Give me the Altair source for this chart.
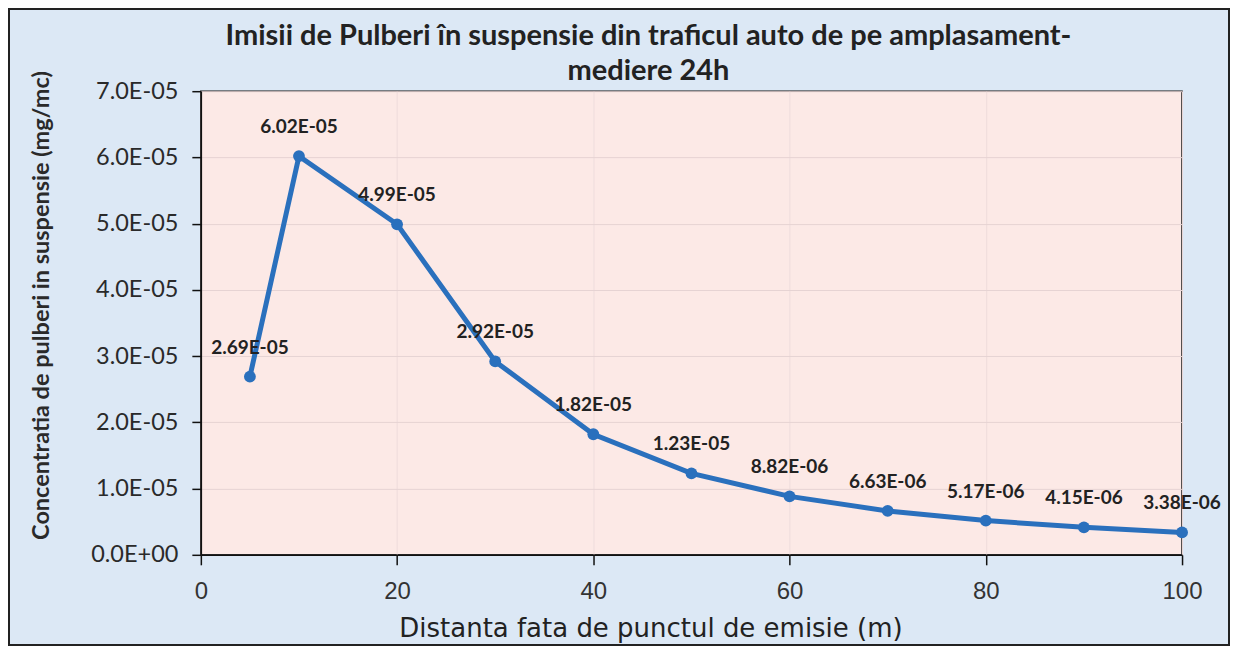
import altair as alt
import pandas as pd

# ---- data ----
distance = [5, 10, 20, 30, 40, 50, 60, 70, 80, 90, 100]
concentration = [2.69e-5, 6.02e-5, 4.99e-5, 2.92e-5, 1.82e-5, 1.23e-5,
                 8.82e-6, 6.63e-6, 5.17e-6, 4.15e-6, 3.38e-6]
x_ticks = [0, 20, 40, 60, 80, 100]
y_ticks = [0, 1e-5, 2e-5, 3e-5, 4e-5, 5e-5, 6e-5, 7e-5]

title_line1 = ["Imisii de Pulberi în suspensie din traficul auto de pe amplasament-"]
title_line2 = ["mediere 24h"]
x_title = "Distanta fata de punctul de emisie (m)"
y_title = "Concentratia de pulberi in suspensie (mg/mc)"

df = pd.DataFrame({
    "dist": distance,
    "conc": concentration,
    "label": [f"{v:.2E}" for v in concentration],
})

W, H = 982, 464
PAD_L, PAD_T, PAD_R, PAD_B = 193, 83, 48, 91

LINE_COLOR = "#2a70bd"
CALIBRI = "Lato"
ARIAL = "Liberation Sans"

x_enc = alt.X(
    "dist:Q",
    scale=alt.Scale(domain=[0, 100], nice=False),
    axis=alt.Axis(
        values=x_ticks, title=x_title, grid=True, gridColor="#eedcdc",
        gridWidth=1, domainColor="#111", domainWidth=1.5, tickColor="#111",
        tickWidth=1.5, tickSize=10, labelFont=ARIAL, labelFontSize=24,
        labelColor="#333", labelPadding=15, labelFlush=False,
        titleFont="DejaVu Sans", titleFontSize=26, titleFontWeight="normal",
        titleColor="#222", titleX=450, titleY=74, titleAlign="center",
        titleBaseline="middle",
    ),
)
y_enc = alt.Y(
    "conc:Q",
    scale=alt.Scale(domain=[0, 7e-5], nice=False),
    axis=alt.Axis(
        values=y_ticks, title=y_title, grid=True, gridColor="#e6d3d3",
        gridWidth=1, domainColor="#111", domainWidth=1.5, tickColor="#111",
        tickWidth=1.5, tickSize=9, labelFont=CALIBRI, labelFontSize=23.5,
        labelColor="#2a2a2a", labelPadding=14, labelFlush=False,
        labelExpr="datum.value == 0 ? '0.0E+00' : replace(format(datum.value, '.1e'), 'e-', 'E-0')",
        titleFont=CALIBRI, titleFontSize=23.5, titleFontWeight="bold",
        titleColor="#2a2a2a", titleX=-159, titleY=214, titleAlign="center",
        titleBaseline="middle", titleAngle=-90,
    ),
)

base = alt.Chart(df)

line = base.mark_line(color=LINE_COLOR, strokeWidth=5).encode(x=x_enc, y=y_enc)
points = base.mark_point(filled=True, color=LINE_COLOR, size=140, opacity=1).encode(
    x="dist:Q", y="conc:Q")
texts = base.mark_text(font=CALIBRI, fontSize=19, fontWeight="bold",
                       color="#222", dy=-29, baseline="middle").encode(
    x="dist:Q", y="conc:Q", text="label:N")

border = base.mark_rect(fill=None, stroke="#222", strokeWidth=1.5).encode(
    x=alt.value(-PAD_L + 1), x2=alt.value(W + PAD_R - 1),
    y=alt.value(-PAD_T + 1), y2=alt.value(H + PAD_B - 1),
)

title_style = dict(font=CALIBRI, fontSize=29, fontWeight="bold", color="#222",
                   align="center", baseline="alphabetic")
t1 = alt.Chart(pd.DataFrame({"line": title_line1})).mark_text(**title_style).encode(
    x=alt.value(448), y=alt.value(-46), text="line:N")
t2 = alt.Chart(pd.DataFrame({"line": title_line2})).mark_text(**title_style).encode(
    x=alt.value(448), y=alt.value(-11), text="line:N")

chart = alt.layer(border, line, points, texts, t1, t2).properties(
    width=W,
    height=H,
    autosize=alt.AutoSizeParams(type="none"),
    padding={"left": PAD_L, "top": PAD_T, "right": PAD_R, "bottom": PAD_B},
    background="#dce8f5",
).configure_view(
    fill="#fce9e6", stroke="#111", strokeWidth=1.5
)

chart.save("out.html", embed_options={"renderer": "svg", "actions": False})
